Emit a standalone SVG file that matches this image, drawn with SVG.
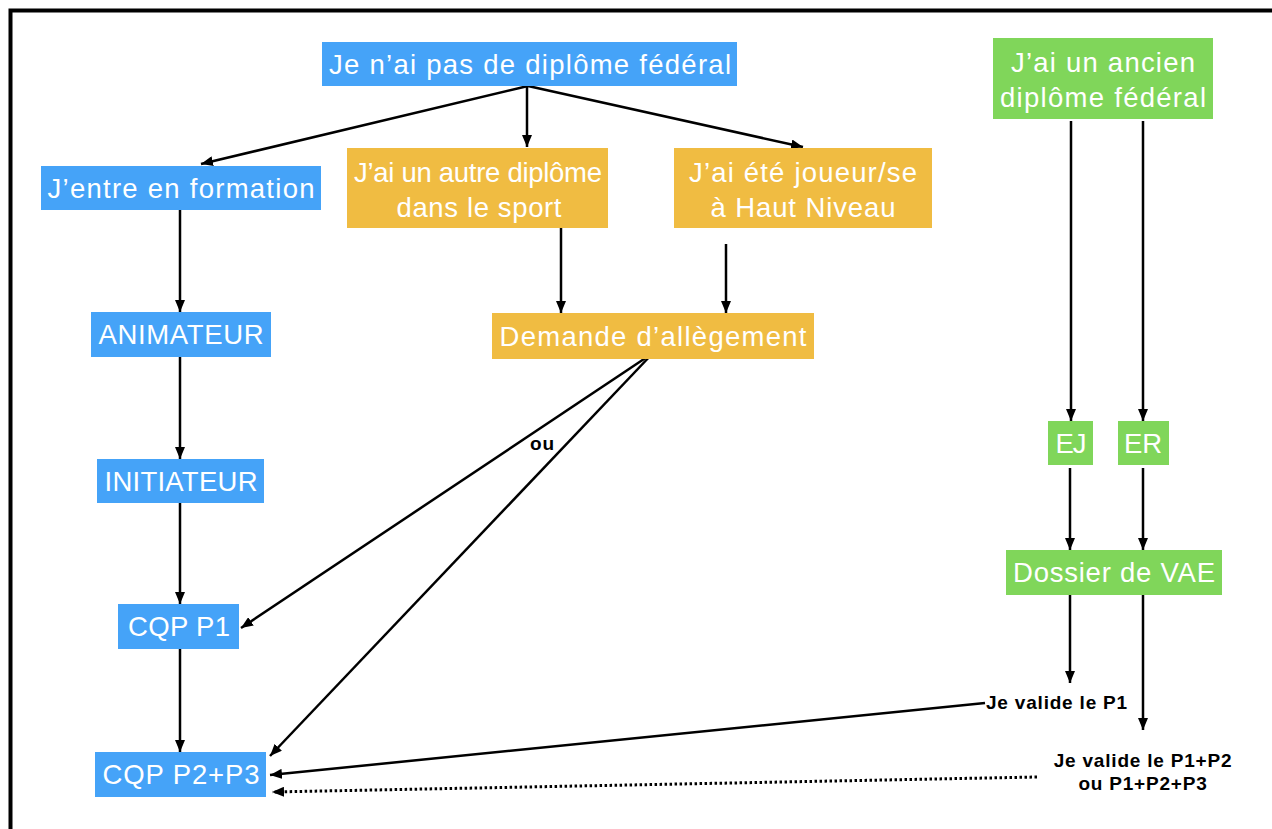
<svg xmlns="http://www.w3.org/2000/svg" width="1272" height="829" viewBox="0 0 1272 829">
<defs>
<style>
.blue{fill:#45A3F8}
.orange{fill:#F0BC42}
.green{fill:#80D65A}
.t{font-family:"Liberation Sans",Arial,Helvetica,sans-serif;font-size:27.5px;fill:#ffffff;text-anchor:middle}
.b{font-family:"Liberation Sans",Arial,Helvetica,sans-serif;font-size:19px;font-weight:bold;fill:#000000;letter-spacing:0.8px}
.c{fill:none;stroke:#000;stroke-width:2.5}
.d{fill:none;stroke:#000;stroke-width:3;stroke-dasharray:2.5 2.5}
</style>
<marker id="ah" viewBox="0 0 12 10" refX="12" refY="5" markerWidth="12" markerHeight="10" markerUnits="userSpaceOnUse" orient="auto">
<path d="M0,0 L12,5 L0,10 z" fill="#000"/>
</marker>
</defs>
<rect width="1272" height="829" fill="#ffffff"/>
<path d="M10.5 829 V10.5 H1272" fill="none" stroke="#000" stroke-width="4"/>

<g id="connectors">
<line class="c" x1="528" y1="86" x2="201" y2="164" marker-end="url(#ah)"/>
<line class="c" x1="527" y1="86" x2="527" y2="147" marker-end="url(#ah)"/>
<line class="c" x1="528" y1="86" x2="803" y2="147" marker-end="url(#ah)"/>
<line class="c" x1="180" y1="210" x2="180" y2="312" marker-end="url(#ah)"/>
<line class="c" x1="180" y1="357" x2="180" y2="459" marker-end="url(#ah)"/>
<line class="c" x1="180" y1="503" x2="180" y2="604" marker-end="url(#ah)"/>
<line class="c" x1="180" y1="649" x2="180" y2="752" marker-end="url(#ah)"/>
<line class="c" x1="561" y1="222" x2="561" y2="313" marker-end="url(#ah)"/>
<line class="c" x1="726" y1="244" x2="726" y2="313" marker-end="url(#ah)"/>
<line class="c" x1="653" y1="353" x2="241" y2="628" marker-end="url(#ah)"/>
<line class="c" x1="653" y1="353" x2="270" y2="756" marker-end="url(#ah)"/>
<line class="c" x1="1071" y1="121" x2="1071" y2="421" marker-end="url(#ah)"/>
<line class="c" x1="1143" y1="121" x2="1143" y2="421" marker-end="url(#ah)"/>
<line class="c" x1="1070" y1="468" x2="1070" y2="550" marker-end="url(#ah)"/>
<line class="c" x1="1143" y1="468" x2="1143" y2="550" marker-end="url(#ah)"/>
<line class="c" x1="1070" y1="595" x2="1070" y2="683" marker-end="url(#ah)"/>
<line class="c" x1="1143" y1="595" x2="1143" y2="730" marker-end="url(#ah)"/>
<line class="c" x1="985" y1="703" x2="270" y2="775" marker-end="url(#ah)"/>
<line class="d" x1="1037" y1="777" x2="272" y2="792" marker-end="url(#ah)"/>
<text class="b" x="530" y="450">ou</text>
</g>

<g id="n-aucun">
<rect class="blue" x="322" y="42" width="415" height="44"/>
<text class="t" x="530" y="74" textLength="402">Je n’ai pas de diplôme fédéral</text>
</g>
<g id="n-formation">
<rect class="blue" x="41" y="166" width="280" height="44"/>
<text class="t" x="181" y="198" textLength="267">J’entre en formation</text>
</g>
<g id="n-autre">
<rect class="orange" x="347" y="148" width="261" height="80"/>
<text class="t" x="478" y="182" textLength="248">J’ai un autre diplôme</text>
<text class="t" x="479" y="217" textLength="165">dans le sport</text>
</g>
<g id="n-joueur">
<rect class="orange" x="674" y="148" width="258" height="80"/>
<text class="t" x="803" y="182" textLength="228">J’ai été joueur/se</text>
<text class="t" x="803" y="217" textLength="185">à Haut Niveau</text>
</g>
<g id="n-ancien">
<rect class="green" x="993" y="38" width="220" height="81"/>
<text class="t" x="1103" y="72" textLength="184">J’ai un ancien</text>
<text class="t" x="1103" y="107" textLength="206">diplôme fédéral</text>
</g>
<g id="n-animateur">
<rect class="blue" x="91" y="312" width="180" height="45"/>
<text class="t" x="181" y="344" textLength="165">ANIMATEUR</text>
</g>
<g id="n-initiateur">
<rect class="blue" x="97" y="459" width="167" height="44"/>
<text class="t" x="181" y="491" textLength="153">INITIATEUR</text>
</g>
<g id="n-cqp1">
<rect class="blue" x="118" y="604" width="121" height="45"/>
<text class="t" x="179" y="636" textLength="102">CQP P1</text>
</g>
<g id="n-cqp23">
<rect class="blue" x="95" y="752" width="171" height="45"/>
<text class="t" x="181" y="784" textLength="157">CQP P2+P3</text>
</g>
<g id="n-allegement">
<rect class="orange" x="492" y="313" width="322" height="46"/>
<text class="t" x="653" y="346" textLength="307">Demande d’allègement</text>
</g>
<g id="n-ej">
<rect class="green" x="1048" y="421" width="45" height="44"/>
<text class="t" x="1071" y="453" textLength="31">EJ</text>
</g>
<g id="n-er">
<rect class="green" x="1118" y="421" width="51" height="44"/>
<text class="t" x="1143" y="453" textLength="38">ER</text>
</g>
<g id="n-vae">
<rect class="green" x="1006" y="550" width="216" height="45"/>
<text class="t" x="1114" y="582" textLength="202">Dossier de VAE</text>
</g>
<g id="n-p1">
<text class="b" x="986" y="709">Je valide le P1</text>
</g>
<g id="n-p123">
<text class="b" x="1143" y="767" text-anchor="middle">Je valide le P1+P2</text>
<text class="b" x="1143" y="790" text-anchor="middle">ou P1+P2+P3</text>
</g>
</svg>
